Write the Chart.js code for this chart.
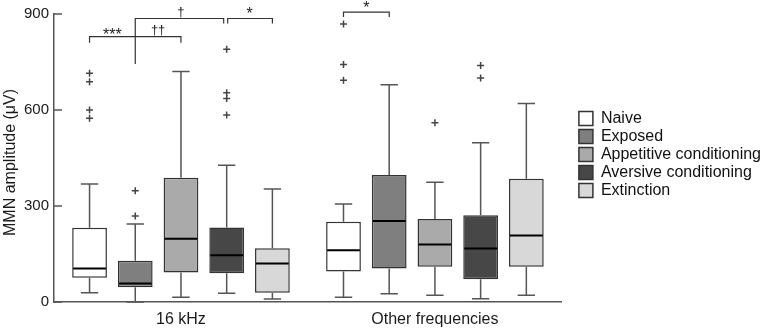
<!DOCTYPE html>
<html>
<head>
<meta charset="utf-8">
<script src="https://cdn.jsdelivr.net/npm/chart.js@4.4.1/dist/chart.umd.min.js"></script>
<style>
  body { margin: 0; background: #fff; }
</style>
</head>
<body>
<canvas id="chart" width="765" height="329"></canvas>
<script>
const categories = ['16 kHz', 'Other frequencies'];
const groups = ['Naive', 'Exposed', 'Appetitive conditioning', 'Aversive conditioning', 'Extinction'];
const yTicks = [0, 300, 600, 900];

// [min, q1, median, q3, max] for each category
const naive = [[29, 76, 105, 232, 369], [15, 95, 162, 251, 306]];
const exposed = [[0, 46, 58, 129, 244], [26, 105, 253, 397, 679]];
const appetitive = [[15, 92, 198, 388, 720], [21, 110, 180, 259, 374]];
const aversive = [[27, 90, 146, 233, 427], [10, 71, 167, 271, 498]];
const extinction = [[9, 29, 120, 168, 353], [21, 110, 208, 385, 620]];

// outliers (+) for each category
const naiveOut = [[574, 600, 688, 715], [693, 742, 869]];
const exposedOut = [[269, 348], []];
const appetitiveOut = [[], [560]];
const aversiveOut = [[584, 636, 654, 790], [700, 739]];
const extinctionOut = [[], []];

// significance brackets: category, from box, to box, line level, end drops
const bracketCat = [0, 0, 0, 1];
const bracketFrom = [0, 1, 3, 0];
const bracketTo = [2, 3, 4, 1];
const bracketLevel = [829, 886, 886, 906];
const bracketDropFrom = [810, 744, 870, 891];
const bracketDropTo = [810, 870, 870, 891];

// significance marks: text, category, placed between two boxes
const markText = ['***', '\u2020\u2020', '\u2020', '*', '*'];
const markCat = [0, 0, 0, 0, 1];
const markA = [0, 1, 1, 3, 0];
const markB = [1, 2, 3, 4, 1];
const markLevel = [834, 850, 905, 897, 916];

const stats = [naive, exposed, appetitive, aversive, extinction];
const outliers = [naiveOut, exposedOut, appetitiveOut, aversiveOut, extinctionOut];
const fills = ['#ffffff', '#7f7f7f', '#aaaaaa', '#474747', '#d8d8d8'];

const FONT = "'Liberation Sans', Arial, sans-serif";
Chart.defaults.font.family = FONT;
Chart.defaults.color = '#1a1a1a';

const boxParts = {
  id: 'boxParts',
  afterDatasetsDraw(chart) {
    const {ctx, scales: {y}, chartArea} = chart;
    ctx.save();
    stats.forEach((rows, i) => {
      const meta = chart.getDatasetMeta(i);
      meta.data.forEach((bar, j) => {
        const [lo, q1, med, q3, hi] = rows[j];
        const x = bar.x, w = bar.width;
        const cap = w * 0.25;
        ctx.strokeStyle = '#555';
        ctx.lineWidth = 1.5;
        ctx.beginPath();
        ctx.moveTo(x, y.getPixelForValue(q3));
        ctx.lineTo(x, y.getPixelForValue(hi));
        ctx.moveTo(x - cap, y.getPixelForValue(hi));
        ctx.lineTo(x + cap, y.getPixelForValue(hi));
        ctx.moveTo(x, y.getPixelForValue(q1));
        ctx.lineTo(x, y.getPixelForValue(lo));
        ctx.moveTo(x - cap, y.getPixelForValue(lo));
        ctx.lineTo(x + cap, y.getPixelForValue(lo));
        ctx.stroke();

        ctx.strokeStyle = '#000';
        ctx.lineWidth = 2;
        ctx.beginPath();
        ctx.moveTo(x - w / 2 + 1, y.getPixelForValue(med));
        ctx.lineTo(x + w / 2 - 1, y.getPixelForValue(med));
        ctx.stroke();

        // outliers
        ctx.strokeStyle = '#444';
        ctx.lineWidth = 1.5;
        outliers[i][j].forEach(v => {
          const py = y.getPixelForValue(v);
          ctx.beginPath();
          ctx.moveTo(x - 3.5, py); ctx.lineTo(x + 3.5, py);
          ctx.moveTo(x, py - 3.5); ctx.lineTo(x, py + 3.5);
          ctx.stroke();
        });
      });
    });

    // inward ticks on the y axis
    ctx.strokeStyle = '#555';
    ctx.lineWidth = 1.5;
    yTicks.forEach(v => {
      const py = y.getPixelForValue(v);
      ctx.beginPath();
      ctx.moveTo(chartArea.left, py);
      ctx.lineTo(chartArea.left + 8, py);
      ctx.stroke();
    });

    // brackets
    const boxX = (c, k) => chart.getDatasetMeta(k).data[c].x;
    ctx.strokeStyle = '#333';
    ctx.lineWidth = 1.2;
    bracketCat.forEach((c, n) => {
      let x1 = boxX(c, bracketFrom[n]), x2 = boxX(c, bracketTo[n]);
      if (n === 1) x2 -= 3;
      if (n === 2) x1 += 1;
      const yl = y.getPixelForValue(bracketLevel[n]);
      ctx.beginPath();
      ctx.moveTo(x1, y.getPixelForValue(bracketDropFrom[n]));
      ctx.lineTo(x1, yl);
      ctx.lineTo(x2, yl);
      ctx.lineTo(x2, y.getPixelForValue(bracketDropTo[n]));
      ctx.stroke();
    });

    ctx.fillStyle = '#222';
    ctx.textAlign = 'center';
    ctx.textBaseline = 'middle';
    markText.forEach((t, n) => {
      const c = markCat[n];
      const mx = (boxX(c, markA[n]) + boxX(c, markB[n])) / 2;
      ctx.font = (t.indexOf('*') >= 0 ? '16px ' : '13px ') + FONT;
      ctx.fillText(t, mx, y.getPixelForValue(markLevel[n]));
    });
    ctx.restore();
  }
};

const datasets = groups.map((name, i) => ({
  label: name,
  data: stats[i].map(r => [r[1], r[3]]),
  backgroundColor: fills[i],
  borderColor: '#333',
  borderWidth: 1.5,
  borderSkipped: false,
  categoryPercentage: 0.9,
  barPercentage: 0.76
}));

new Chart(document.getElementById('chart'), {
  type: 'bar',
  data: { labels: categories, datasets: datasets },
  options: {
    responsive: false,
    animation: false,
    devicePixelRatio: 1,
    layout: { padding: { left: 0, top: 0, bottom: 0, right: -6 } },
    plugins: {
      tooltip: { enabled: false },
      legend: {
        position: 'right',
        align: 'start',
        maxWidth: 240,
        title: {
          display: true,
          text: ' ',
          font: { size: 10 },
          padding: { top: 96.5, bottom: 0 }
        },
        labels: {
          boxWidth: 14,
          boxHeight: 14,
          padding: 2,
          color: '#111',
          font: { size: 16 }
        }
      }
    },
    scales: {
      x: {
        grid: { display: false, drawTicks: false },
        border: { color: '#555', width: 1.5 },
        ticks: { font: { size: 16 }, color: '#1a1a1a', padding: 8 },
        afterFit(s) { s.height = 27; }
      },
      xTop: {
        type: 'category',
        position: 'top',
        grid: { display: false, drawTicks: false },
        border: { display: false },
        ticks: { display: false },
        afterFit(s) { s.height = 14; }
      },
      y: {
        min: 0,
        max: 900,
        afterBuildTicks(s) { s.ticks = yTicks.map(v => ({ value: v })); },
        grid: { display: false, drawTicks: false },
        border: { color: '#555', width: 1.5 },
        ticks: { font: { size: 15 }, color: '#1a1a1a', padding: 5 },
        title: {
          display: true,
          text: 'MMN amplitude (\u03bcV)  ',
          font: { size: 16 },
          color: '#1a1a1a',
          padding: { top: 1, bottom: 0 }
        },
        afterFit(s) { s.width = 54; }
      },
      yRight: {
        type: 'linear',
        position: 'right',
        grid: { display: false, drawTicks: false },
        border: { display: false },
        ticks: { display: false },
        afterFit(s) { s.width = 15; }
      }
    }
  },
  plugins: [boxParts]
});
</script>
</body>
</html>
